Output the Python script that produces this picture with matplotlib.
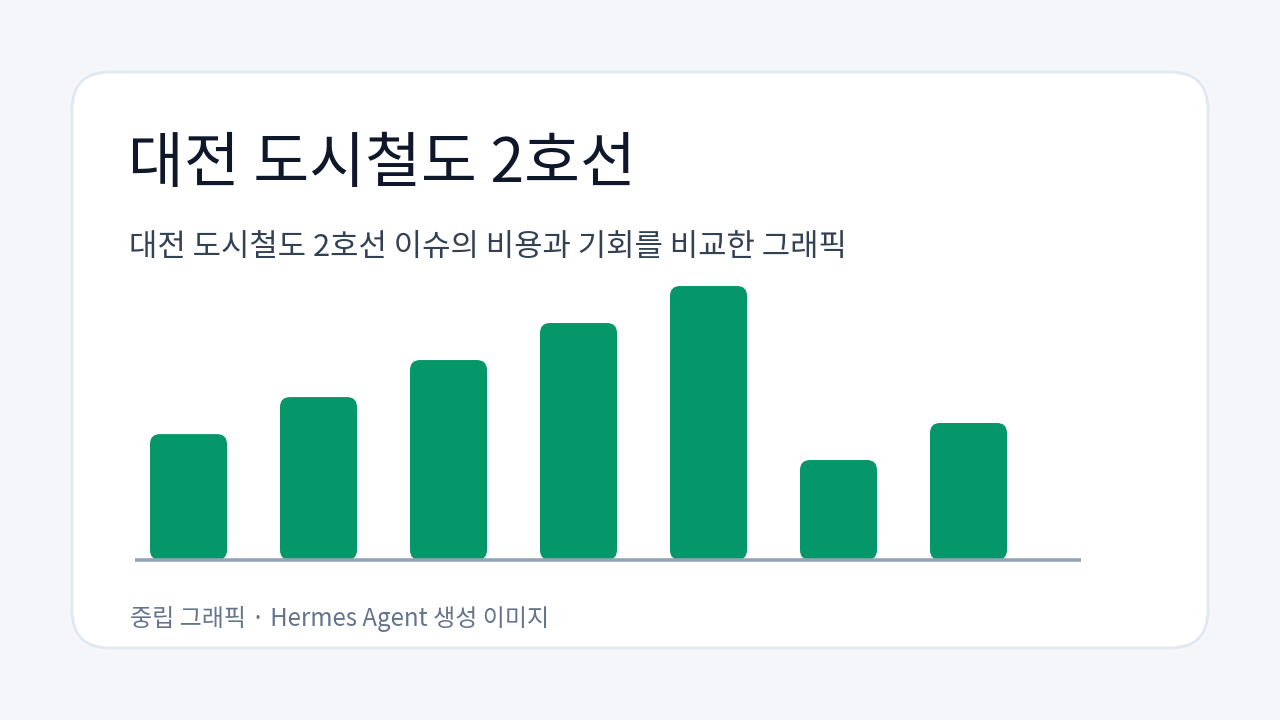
import matplotlib.pyplot as plt
from matplotlib.patches import FancyBboxPatch

plt.rcParams['font.family'] = ['Noto Sans CJK KR', 'DejaVu Sans']

title = '대전 도시철도 2호선'
subtitle = '대전 도시철도 2호선 이슈의 비용과 기회를 비교한 그래픽'
footer = '중립 그래픽 · Hermes Agent 생성 이미지'
values = [34, 44, 54, 64, 74, 27, 37]

W, H = 1280, 720
fig = plt.figure(figsize=(W / 100, H / 100), dpi=100)
fig.patch.set_facecolor('#f5f6fa')

# background / card layer in pixel coordinates
bg = fig.add_axes([0, 0, 1, 1])
bg.set_xlim(0, W)
bg.set_ylim(H, 0)
bg.axis('off')
card = FancyBboxPatch((72, 72), 1136, 576, boxstyle='round,pad=0,rounding_size=38',
                      fc='white', ec='#e2e8f0', lw=2)
bg.add_patch(card)

bg.text(128, 165, title, fontsize=43.7, color='#0f172a', va='center', ha='left')
bg.text(129, 247, subtitle, fontsize=22.2, color='#334155', va='center', ha='left')
bg.text(130, 619, footer, fontsize=17.3, color='#64748b', va='center', ha='left')

# chart area: x 135..1081 px, y 286..560 px
left, right, top, base = 135, 1081, 286, 560
ax = fig.add_axes([left / W, 1 - base / H, (right - left) / W, (base - top) / H])
ax.axis('off')
x0 = -(188.5 - left) / 130
x1 = (right - 188.5) / 130
ax.set_xlim(x0, x1)
ax.set_ylim(0, max(values))

bw = 77 / 130
px_per_x = 130
px_per_y = (base - top) / max(values)
for i, v in enumerate(values):
    p = FancyBboxPatch((i - bw / 2, 0), bw, v,
                       boxstyle='round,pad=0,rounding_size=%f' % (10 / px_per_x),
                       mutation_aspect=px_per_x / px_per_y,
                       fc='#059669', ec='none', clip_on=False)
    ax.add_patch(p)
ax.plot([x0, x1], [0, 0], color='#94a3b8', lw=2.6, solid_capstyle='butt', clip_on=False, zorder=5)

fig.savefig('out.png', dpi=100, facecolor=fig.get_facecolor())
